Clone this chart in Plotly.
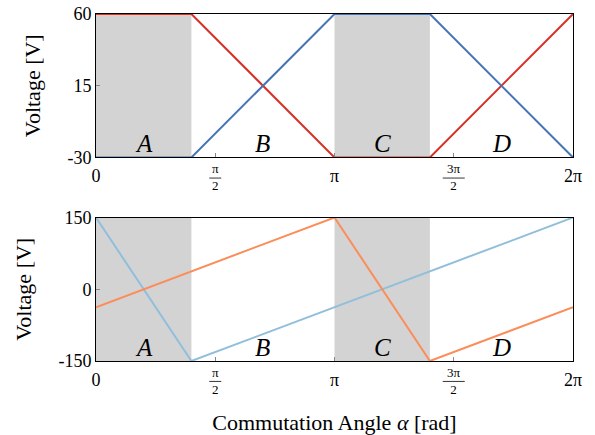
import numpy as np
import plotly.graph_objects as go
from plotly.subplots import make_subplots

PI = np.pi

# --- data ---
top_x = [0, 0.4 * PI, PI, 1.4 * PI, 2 * PI]
top_red = [60, 60, -30, -30, 60]
top_blue = [-30, -30, 60, 60, -30]

bot_lightblue_x = [0, 0.4 * PI, 2 * PI]
bot_lightblue_y = [150, -150, 150]
bot_orange_x = [0, PI, 1.4 * PI, 2 * PI]
bot_orange_y = [-37.5, 150, -150, -37.5]

shaded_regions = [(0, 0.4 * PI), (PI, 1.4 * PI)]
region_labels = ["A", "B", "C", "D"]
region_label_x = [0.2 * PI, 0.7 * PI, 1.2 * PI, 1.7 * PI]

tick_vals = [0, PI / 2, PI, 3 * PI / 2, 2 * PI]
tick_text = ["0", "", "π", "", "2π"]
frac_ticks = [(PI / 2, "π", "2"), (3 * PI / 2, "3π", "2")]

top_yticks = [-30, 15, 60]
top_yticklabels = ["-30", "15", "60"]
bot_yticks = [-150, 0, 150]
bot_yticklabels = ["-150", "0", "150"]

RED = "#d73027"
BLUE = "#4575b4"
LIGHTBLUE = "#91bfdb"
ORANGE = "#fc8d59"
FONT = "Liberation Serif, Times New Roman, serif"

fig = make_subplots(rows=2, cols=1, vertical_spacing=0.173)

fig.add_trace(go.Scatter(x=top_x, y=top_red, mode="lines",
                         line=dict(color=RED, width=2)), row=1, col=1)
fig.add_trace(go.Scatter(x=top_x, y=top_blue, mode="lines",
                         line=dict(color=BLUE, width=2)), row=1, col=1)
fig.add_trace(go.Scatter(x=bot_lightblue_x, y=bot_lightblue_y, mode="lines",
                         line=dict(color=LIGHTBLUE, width=2)), row=2, col=1)
fig.add_trace(go.Scatter(x=bot_orange_x, y=bot_orange_y, mode="lines",
                         line=dict(color=ORANGE, width=2)), row=2, col=1)

for xa, ya, h in [("x", "y", 143.0), ("x2", "y2", 144.0)]:
    for x0, x1 in shaded_regions:
        fig.add_shape(type="rect", xref=xa, yref=ya + " domain", x0=x0, x1=x1,
                      y0=0, y1=1, fillcolor="#d3d3d3", line_width=0, layer="below")
    for lab, lx in zip(region_labels, region_label_x):
        fig.add_annotation(x=lx, xref=xa, y=0, yref=ya + " domain", text="<i>" + lab + "</i>",
                           showarrow=False, yanchor="bottom", yshift=-2,
                           font=dict(family=FONT, size=25, color="black"))
    for fx, num, den in frac_ticks:
        fig.add_annotation(x=fx, xref=xa, y=0, yref=ya + " domain", text=num + "<br>" + den,
                           showarrow=False, yanchor="middle", yshift=-20, borderpad=0,
                           font=dict(family=FONT, size=13, color="black"))
        hw = 0.079 if len(num) == 1 else 0.145
        fig.add_shape(type="line", xref=xa, yref=ya + " domain", x0=fx - hw, x1=fx + hw,
                      y0=-20.5 / h, y1=-20.5 / h, line=dict(color="black", width=0.8))

axis_common = dict(showgrid=False, zeroline=False, showline=True, linecolor="black",
                   linewidth=1, mirror=True, ticks="inside", ticklen=4, tickcolor="#888",
                   automargin=False, ticklabeloverflow="allow",
                   tickfont=dict(family=FONT, size=18, color="black"))

fig.update_xaxes(range=[0, 2 * PI], tickvals=tick_vals, ticktext=tick_text,
                 ticklabelstandoff=2, **axis_common)
fig.update_yaxes(**axis_common)
fig.update_yaxes(range=[-30, 60], tickvals=top_yticks, ticktext=top_yticklabels, row=1, col=1,
                 title=dict(text="Voltage [V]", standoff=20,
                            font=dict(family=FONT, size=22, color="black")))
fig.update_yaxes(range=[-150, 150], tickvals=bot_yticks, ticktext=bot_yticklabels, row=2, col=1,
                 title=dict(text="Voltage [V]", standoff=20,
                            font=dict(family=FONT, size=22, color="black")))
fig.update_xaxes(row=2, col=1,
                 title=dict(text="Commutation Angle <i>α</i> [rad]", standoff=29,
                            font=dict(family=FONT, size=22, color="black")))

fig.update_layout(width=595, height=435, showlegend=False,
                  margin=dict(l=96, r=22, t=14, b=74),
                  paper_bgcolor="white", plot_bgcolor="white",
                  font=dict(family=FONT, color="black"))

# remove the default 8 px body margin so the figure fills the window exactly
fig.write_html("out.html", config={"displayModeBar": False},
               post_script="document.body.style.margin='0';document.body.style.overflow='hidden';")
